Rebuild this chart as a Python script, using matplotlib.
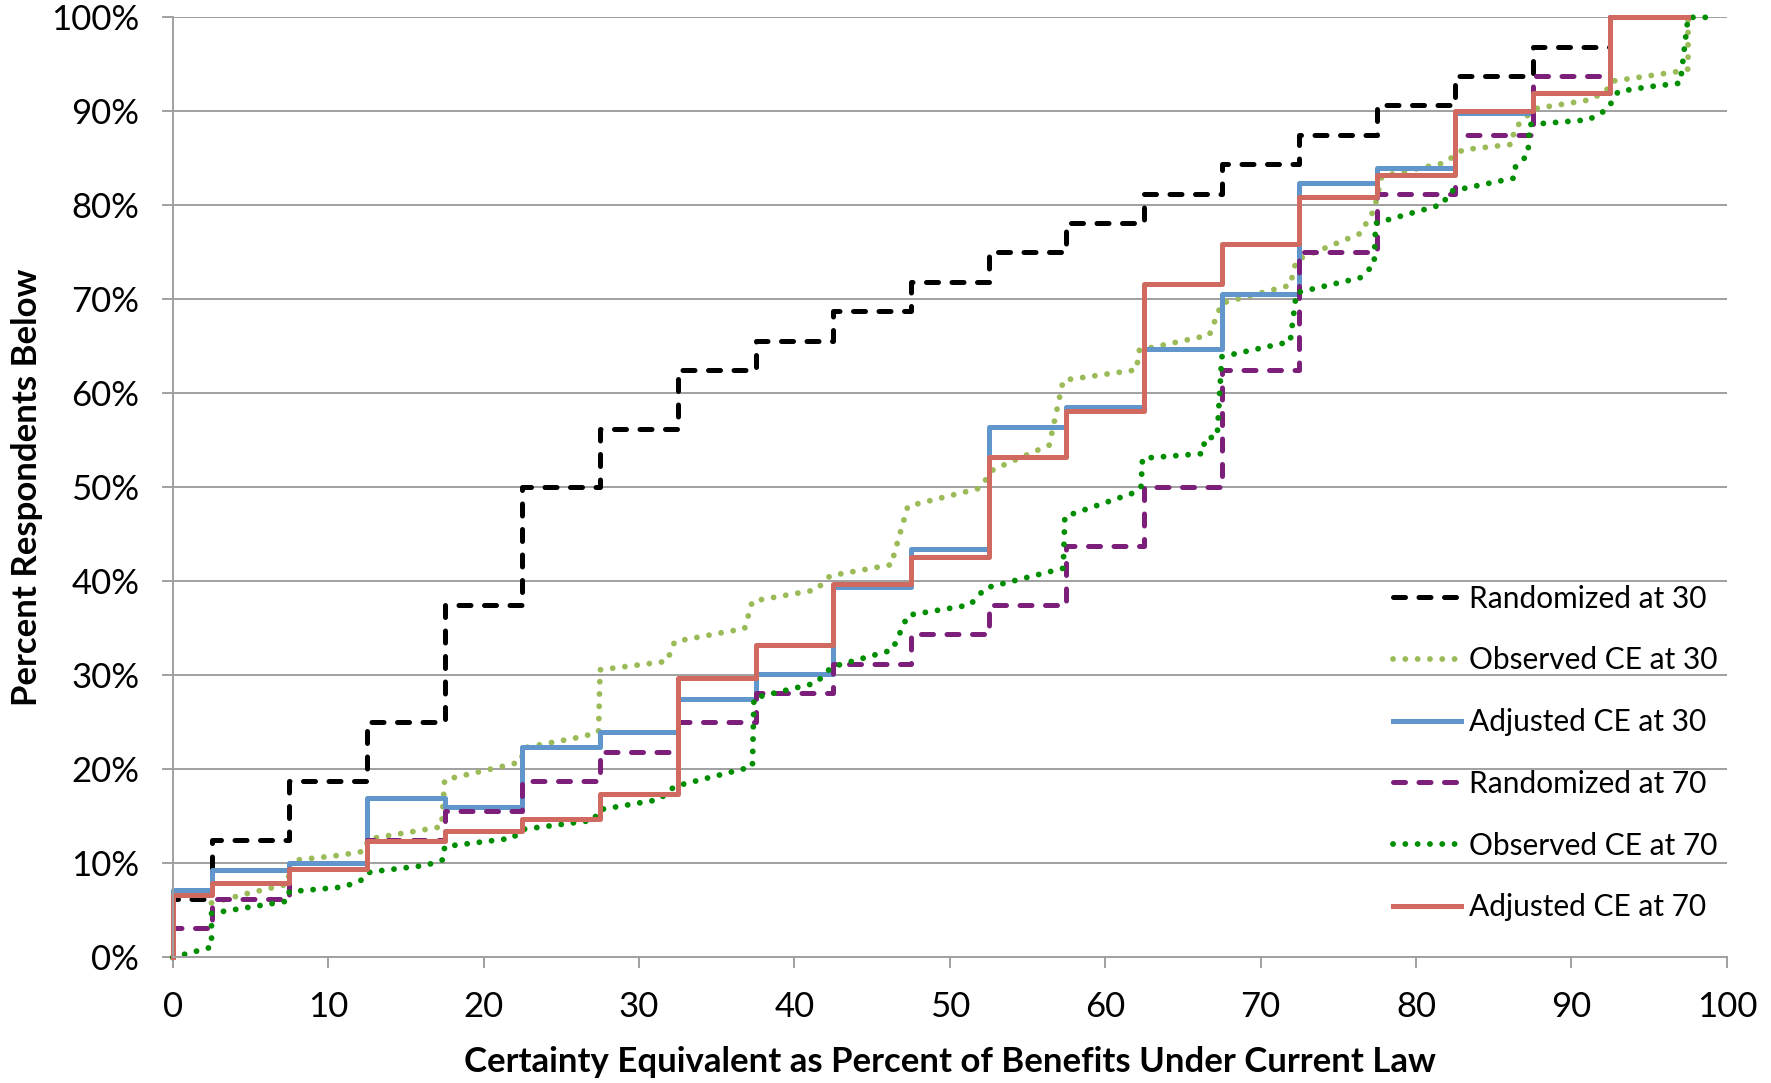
import matplotlib
matplotlib.use("Agg")
import matplotlib.pyplot as plt
from matplotlib.ticker import FuncFormatter

plt.rcParams['font.family'] = ['Lato', 'DejaVu Sans']

# bin edges of the step curves (percent of benefits)
step_edges = [0, 2.5, 7.5, 12.5, 17.5, 22.5, 27.5, 32.5, 37.5, 42.5, 47.5,
              52.5, 57.5, 62.5, 67.5, 72.5, 77.5, 82.5, 87.5, 92.5, 97.5]

# cumulative percent, one value per bin
rand30 = [6.25, 12.5, 18.75, 25.0, 37.5, 50.0, 56.25, 62.5, 65.625, 68.75,
          71.875, 75.0, 78.125, 81.25, 84.375, 87.5, 90.625, 93.75, 96.875, 100.0]
adj30 = [7.2, 9.3, 10.1, 17.0, 16.0, 22.4, 24.0, 27.5, 30.2, 39.4,
         43.4, 56.4, 58.5, 64.7, 70.6, 82.4, 84.0, 89.8, 92.0, 100.0]
rand70 = [3.125, 6.25, 9.375, 12.5, 15.625, 18.75, 21.875, 25.0, 28.125, 31.25,
          34.375, 37.5, 43.75, 50.0, 62.5, 75.0, 81.25, 87.5, 93.75, 100.0]
adj70 = [6.6, 7.9, 9.4, 12.4, 13.4, 14.7, 17.4, 29.7, 33.2, 39.7,
         42.6, 53.2, 58.1, 71.6, 75.9, 80.9, 83.2, 90.0, 92.0, 100.0]

# observed certainty equivalents (empirical curves)
obs30_x = [2.5, 4.8, 7.4, 7.6, 10.9, 12.3, 12.6, 17.3, 17.5, 21.4, 22.4, 22.6,
           26.4, 27.4, 27.5, 31.8, 32.3, 36.8, 37.3, 41.4, 42.3, 46.3, 46.4, 47.3,
           51.9, 52.8, 56.4, 57.3, 62.0, 62.2, 66.7, 67.5, 71.9, 72.3, 76.4, 77.3,
           77.8, 81.8, 83.0, 86.2, 86.3, 87.2, 87.7, 91.1, 92.2, 92.6, 96.7, 97.5, 97.5]
obs30_y = [5.8, 6.8, 7.8, 10.3, 10.9, 11.3, 12.6, 13.9, 18.9, 20.4, 20.8, 22.3,
           23.5, 24.0, 30.6, 31.5, 33.6, 35.0, 37.9, 39.1, 40.6, 41.8, 42.8, 48.0,
           49.9, 51.9, 54.5, 61.4, 62.5, 64.6, 66.2, 69.6, 71.5, 74.2, 77.0, 79.5,
           83.1, 84.5, 85.9, 86.5, 88.1, 89.6, 90.3, 91.2, 92.1, 93.2, 94.2, 94.5, 100.0]

obs70_x = [0.0, 2.5, 2.5, 4.0, 7.4, 7.5, 11.0, 12.4, 12.7, 16.3, 17.4, 17.5,
           21.9, 22.4, 27.1, 27.4, 31.3, 32.3, 37.3, 37.4, 41.4, 42.4, 46.3, 47.3,
           51.3, 52.3, 57.3, 57.4, 61.8, 62.3, 62.4, 66.3, 66.4, 67.2, 67.5, 71.9,
           72.3, 76.4, 77.3, 77.4, 81.7, 82.2, 86.3, 86.4, 87.2, 87.3, 91.1, 92.3,
           93.0, 94.9, 97.0, 97.5, 98.7]
obs70_y = [0.0, 1.1, 4.7, 5.1, 6.0, 7.0, 7.5, 8.4, 9.1, 9.8, 10.4, 11.8,
           12.7, 13.6, 14.6, 15.7, 16.8, 18.2, 20.3, 27.6, 29.2, 30.9, 32.7, 36.4,
           37.5, 39.3, 41.4, 46.9, 49.4, 50.0, 53.1, 53.6, 55.2, 55.4, 63.9, 65.5,
           70.7, 72.3, 73.7, 78.1, 80.1, 81.5, 82.9, 84.1, 85.4, 88.6, 89.1, 90.2,
           92.1, 92.6, 93.0, 100.0, 100.0]

fig = plt.figure(figsize=(17.71, 10.83), dpi=100)
ax = fig.add_axes([0.0975, 0.1159, 0.8776, 0.8681])

dash = (0, (2.4, 2.7))
dot = (0, (0.01, 2.1))


def stepline(vals, **kw):
    xs = [0] + step_edges
    ys = [0] + vals + [vals[-1]]
    ax.step(xs, ys, where='post', clip_on=False, **kw)


stepline(rand30, color='black', lw=3.6, ls=dash, dash_capstyle='round',
         label='Randomized at 30')
ax.plot(obs30_x, obs30_y, color='#9BBB59', lw=4.2, ls=dot, dash_capstyle='round',
        clip_on=False, label='Observed CE at 30')
stepline(adj30, color='#6096CB', lw=3.6, label='Adjusted CE at 30')
stepline(rand70, color='#7B1F7B', lw=3.6, ls=dash, dash_capstyle='round',
         label='Randomized at 70')
ax.plot(obs70_x, obs70_y, color='#008E00', lw=4.2, ls=dot, dash_capstyle='round',
        clip_on=False, label='Observed CE at 70')
stepline(adj70, color='#D06A60', lw=3.6, label='Adjusted CE at 70')

ax.set_xlim(0, 100)
ax.set_ylim(0, 100)
ax.set_xticks(range(0, 101, 10))
ax.set_yticks(range(0, 101, 10))
ax.yaxis.set_major_formatter(FuncFormatter(lambda v, p: '%d%%' % v))

ax.grid(axis='y', color='#A0A0A0', lw=1.4)
ax.set_axisbelow(True)
for s in ['top', 'right']:
    ax.spines[s].set_visible(False)
for s in ['left', 'bottom']:
    ax.spines[s].set_color('#A0A0A0')
    ax.spines[s].set_linewidth(1.4)
ax.tick_params(axis='both', colors='#A0A0A0', labelcolor='black', length=8,
               width=1.4, labelsize=25)
ax.tick_params(axis='x', pad=16)
ax.tick_params(axis='y', pad=16)

ax.set_xlabel('Certainty Equivalent as Percent of Benefits Under Current Law',
              fontsize=25, fontweight='bold', labelpad=17)
ax.set_ylabel('Percent Respondents Below', fontsize=25, fontweight='bold', labelpad=6)

ax.legend(loc='upper left', bbox_to_anchor=(0.778, 0.474), bbox_transform=fig.transFigure,
          frameon=False, fontsize=21.5, handlelength=2.3, handletextpad=0.25,
          labelspacing=1.13, borderpad=0)

fig.savefig('out.png', dpi=100)
